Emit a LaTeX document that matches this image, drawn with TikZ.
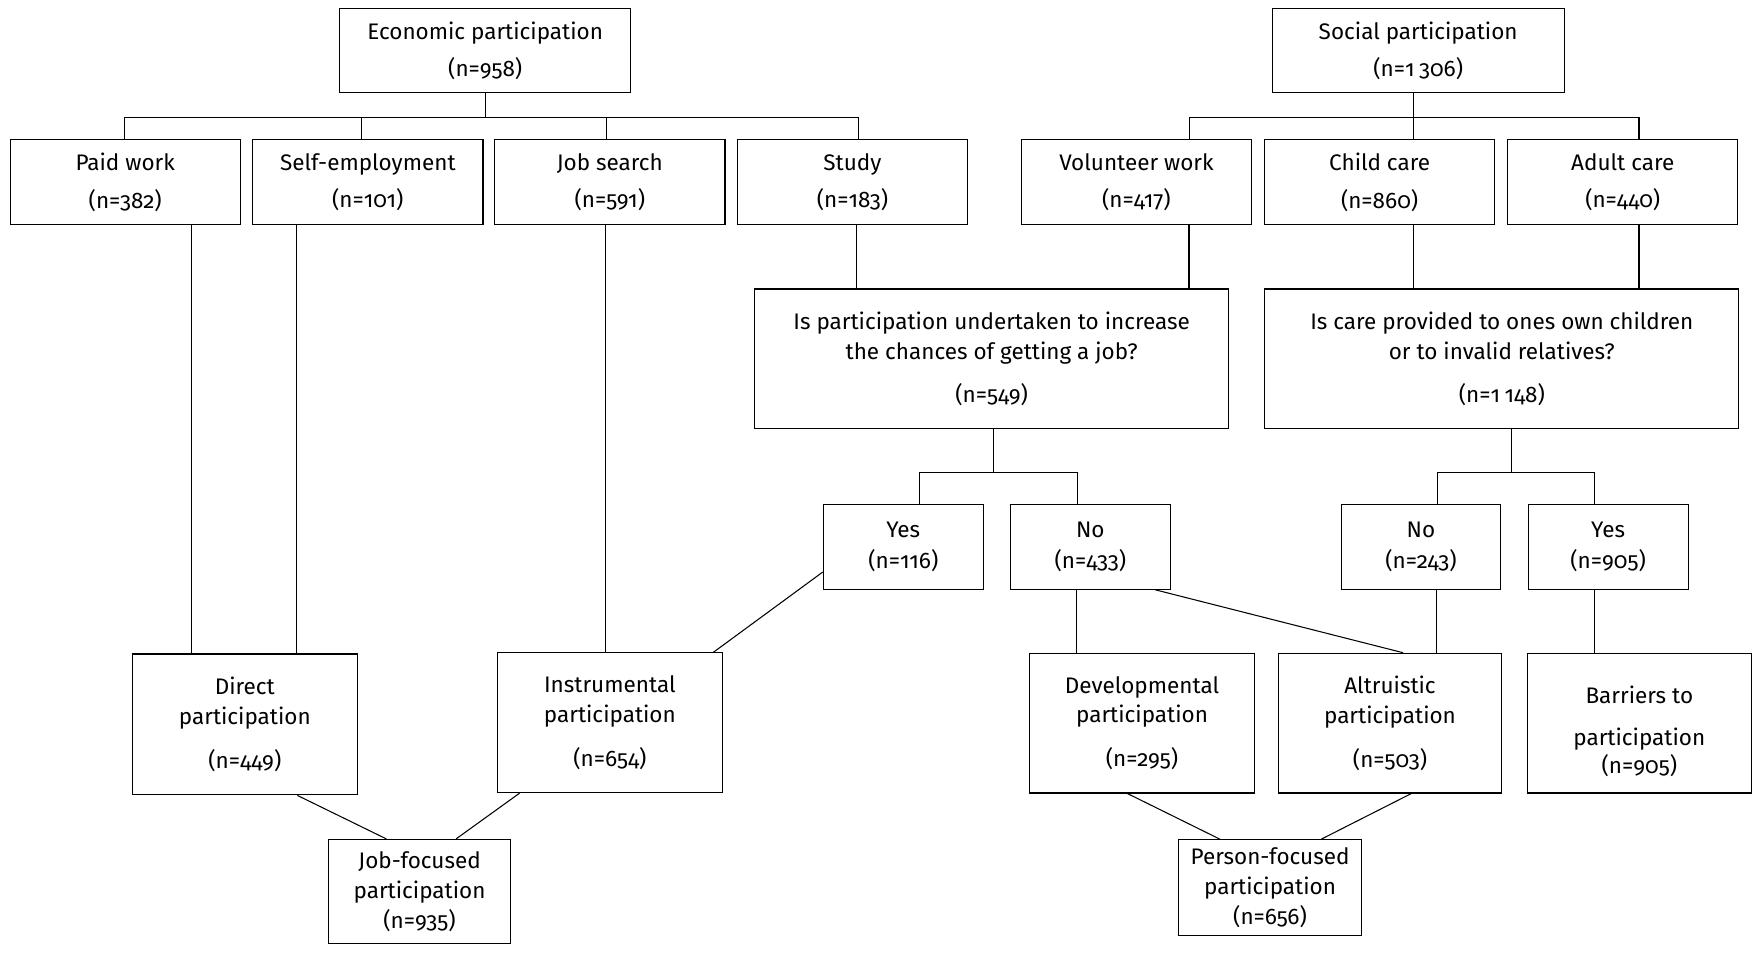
\documentclass[tikz,border=0pt]{standalone}
\usepackage{fontspec}
\setmainfont{Fira Sans}[Numbers=OldStyle]
\begin{document}
\begin{tikzpicture}[x=0.02236cm, y=-0.02236cm, line width=0.6pt,
  pbox/.style 2 args={draw, align=center, inner sep=0pt,
    font=\fontsize{12.8}{15}\selectfont,
    minimum width=#1*0.02236cm, minimum height=#2*0.02236cm},
  ]
\useasboundingbox (0,0) rectangle (1568,852);
\node[pbox={260}{75}] (econ) at (434,45.5) {Economic participation\\[6pt](n=958)};
\node[pbox={261}{75}] (social) at (1268.5,45.5) {Social participation\\[6pt](n=1\hspace{0.2em}306)};
\node[pbox={206}{76}] (paid) at (112,163) {Paid work\\[6.5pt](n=382)};
\node[pbox={206}{76}] (self) at (329,163) {Self-employment\\[6.5pt](n=101)};
\node[pbox={206}{76}] (jobs) at (545.5,163) {Job search\\[6.5pt](n=591)};
\node[pbox={206}{76}] (study) at (762.5,163) {Study\\[6.5pt](n=183)};
\node[pbox={206}{76}] (volun) at (1016.5,163) {Volunteer work\\[6.5pt](n=417)};
\node[pbox={206}{76}] (child) at (1234,163) {Child care\\[6.5pt](n=860)};
\node[pbox={206}{76}] (adult) at (1451.5,163) {Adult care\\[6.5pt](n=440)};
\node[pbox={424}{125}] (q1) at (887,321) {Is participation undertaken to increase\\[2pt]the chances of getting a job?\\[9.5pt](n=549)};
\node[pbox={424}{125}] (q2) at (1343.3,321) {Is care provided to ones own children\\[2pt]or to invalid relatives?\\[9.5pt](n=1\hspace{0.2em}148)};
\node[pbox={143}{76}] (yes1) at (808,489) {Yes\\[2.5pt](n=116)};
\node[pbox={143}{76}] (no1) at (975.3,489) {No\\[2.5pt](n=433)};
\node[pbox={143}{76}] (no2) at (1271,489) {No\\[2.5pt](n=243)};
\node[pbox={143}{76}] (yes2) at (1438.4,489) {Yes\\[2.5pt](n=905)};
\node[pbox={201}{126}] (direct) at (219,648) {Direct\\[2pt]participation\\[10pt](n=449)};
\node[pbox={201}{125}] (instr) at (545.5,646.5) {Instrumental\\[2pt]participation\\[10pt](n=654)};
\node[pbox={201}{125}] (devel) at (1021.5,646.8) {Developmental\\[2pt]participation\\[10pt](n=295)};
\node[pbox={200}{125}] (altru) at (1243.3,646.8) {Altruistic\\[2pt]participation\\[10pt](n=503)};
\node[pbox={200}{125}] (barr) at (1466.3,646.8) {\rule{0pt}{19pt}Barriers to\\[9pt]participation\\[1pt](n=905)};
\node[pbox={163}{93}] (jobf) at (375.3,797.3) {Job-focused\\[2pt]participation\\[2pt](n=935)};
\node[pbox={163}{86}] (persf) at (1136,794) {Person-focused\\[2pt]participation\\[2pt](n=656)};

\foreach \n/\x in {paid/111,self/323.5,jobs/542.7,study/768}
  \draw (econ.south) -- ++(0,22) -| (\n.north -| \x,0);
\foreach \n/\x in {volun/1064,child/1264,adult/1466}
  \draw (social.south -| 1264,0) -- ++(0,22) -| (\n.north -| \x,0);
\foreach \n/\x in {yes1/822.5,no1/963.5}
  \draw (q1.south -| 888.6,0) -- ++(0,38.5) -| (\n.north -| \x,0);
\foreach \n/\x in {no2/1285.5,yes2/1426}
  \draw (q2.south -| 1351.6,0) -- ++(0,38.5) -| (\n.north -| \x,0);

\foreach \a/\b/\x in {paid/direct/171.5,self/direct/265.5,jobs/instr/542,
  study/q1/766.5,volun/q1/1063.5,child/q2/1264,adult/q2/1466,
  no1/devel/963,no2/altru/1285,yes2/barr/1426}
  \draw (\a.south -| \x,0) -- (\b.north -| \x,0);

\draw (yes1.west |- 0,511.6) -- (instr.north -| 638,0);
\draw (no1.south -| 1033,0) -- (altru.north -| 1255,0);
\draw (direct.south -| 266,0) -- (jobf.north -| 345.5,0);
\draw (instr.south -| 464.7,0) -- (jobf.north -| 408,0);
\draw (devel.south -| 1008.4,0) -- (persf.north -| 1091,0);
\draw (altru.south -| 1262.4,0) -- (persf.north -| 1182,0);
\end{tikzpicture}
\end{document}
